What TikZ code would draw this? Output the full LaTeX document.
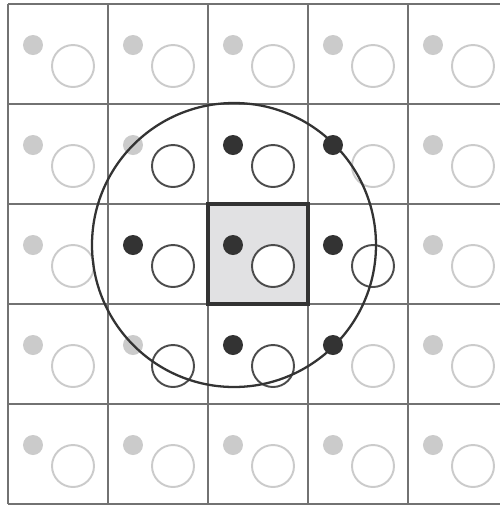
\documentclass[tikz,border=0pt]{standalone}
\definecolor{gridc}{HTML}{727272}
\definecolor{lightc}{HTML}{CBCBCB}
\definecolor{darkc}{HTML}{333333}
\definecolor{darkring}{HTML}{4C4C4C}
\definecolor{cellfill}{HTML}{E1E1E3}
\tikzset{
  gridline/.style={draw=gridc, line width=0.7pt},
  lightdot/.style={fill=lightc},
  darkdot/.style={fill=darkc},
  lightring/.style={draw=lightc, fill=white, line width=0.55pt},
  darkring/.style={draw=darkring, fill=white, line width=0.55pt},
  bigring/.style={draw=darkc, line width=0.65pt},
  centerbox/.style={draw=darkc, line width=0.95pt}
}
\begin{document}
\begin{tikzpicture}[x=0.01cm,y=-0.01cm]
\useasboundingbox (0,0) rectangle (500,505);
\fill[white] (0,0) rectangle (500,505);
\begin{scope}
\clip (0,0) rectangle (500,505);
\fill[cellfill] (208,204) rectangle (308,304);
\foreach \i in {0,...,5} {
  \draw[gridline] (8+100*\i,4) -- (8+100*\i,504);
  \draw[gridline] (8,4+100*\i) -- (508,4+100*\i);
}
\foreach \c in {0,...,4} {
  \foreach \r in {0,...,4} {
    \pgfmathsetmacro{\x}{8+100*\c}
    \pgfmathsetmacro{\y}{4+100*\r}
    \def\dstyle{lightdot}
    \def\rstyle{lightring}
    \ifnum\r=1 \ifnum\c=2 \def\dstyle{darkdot}\fi \ifnum\c=3 \def\dstyle{darkdot}\fi \fi
    \ifnum\r=2 \ifnum\c>0 \ifnum\c<4 \def\dstyle{darkdot}\fi\fi \fi
    \ifnum\r=3 \ifnum\c=2 \def\dstyle{darkdot}\fi \ifnum\c=3 \def\dstyle{darkdot}\fi \fi
    \ifnum\r>0 \ifnum\r<4 \ifnum\c>0 \ifnum\c<3 \def\rstyle{darkring}\fi\fi\fi\fi
    \ifnum\r=2 \ifnum\c=3 \def\rstyle{darkring}\fi\fi
    \fill[\dstyle] (\x+25,\y+41) circle (10);
    \filldraw[\rstyle] (\x+65,\y+62) circle (21);
  }
}
\draw[centerbox] (208,204) rectangle (308,304);
\draw[bigring] (234,245) circle (142);
\end{scope}
\end{tikzpicture}
\end{document}
